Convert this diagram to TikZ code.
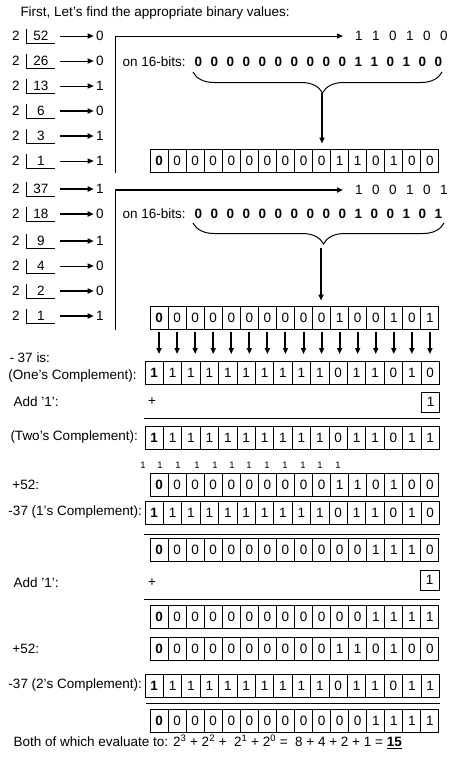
\documentclass[tikz,border=0pt]{standalone}
\usepackage{fontspec}
\setmainfont{Liberation Sans}
\usetikzlibrary{arrows.meta,calc,decorations.pathreplacing}
\definecolor{inkblack}{HTML}{000000}
\tikzset{
  txt/.style={inner sep=0pt,font=\fontsize{13.5}{14}\selectfont,color=inkblack},
  lbl/.style={txt,anchor=west},
  cell/.style={draw=inkblack,line width=1pt,minimum height=23pt,inner sep=0pt,font=\fontsize{13.5}{14}\selectfont},
  tip/.style={-{Triangle[length=6pt,width=5pt]}},
  bracepath/.style={decorate,decoration={brace,mirror,amplitude=21pt,aspect=0.52}},
}
\newcommand{\digitstrip}[2]{\foreach \d in {#2}{\makebox[#1]{\d}}}
\newcommand{\bitrow}[5]{%
  \foreach \b [count=\i] in {#5}{
    \node[cell,minimum width=#4pt](#1\i)at(#2+#4*\i-#4/2,#3){\ifnum\i=1 \textbf{\b}\else\b\fi};}}

\begin{document}
\begin{tikzpicture}[x=1pt,y=-1pt,line width=1pt]
\useasboundingbox(0,0)rectangle(464,782);
\node[lbl](title)at(20,13){First, Let's find the appropriate binary values:};
\foreach \y/\n/\r/\w [count=\k] in {36/52/0/1,61/26/0/1,86/13/1/1,111/6/0/2,136/3/1/2,161/1/1/1,
    189/37/1/2,214/18/0/2,241/9/1/2,266/4/0/1,291/2/0/2,316/1/1/2}{
  \node[txt](two\k)at(16,\y){2};
  \node[txt](num\k)at(41,\y){\n};
  \node[txt](rem\k)at(100,\y){\r};
  \coordinate(st\k)at(60,\y);
  \draw(26,\y-7)--(26,\y+7)--(55,\y+7);
  \draw[tip,line width=\w pt,shorten >=2pt](st\k)--(rem\k.west);}
% 52
\coordinate(cA)at(115,36);
\node[lbl](binA)at(350,36){\digitstrip{17pt}{1,1,0,1,0,0}};
\node[lbl](onA)at(122,62){on 16-bits:};
\node[lbl,font=\fontsize{13.5}{14}\selectfont\bfseries](bitsA)at(190,62){\digitstrip{16pt}{0,0,0,0,0,0,0,0,0,0,1,1,0,1,0,0}};
\draw[bracepath](193,72)--(442,72);
\coordinate(tipA)at(322,93);
\bitrow{a}{150}{160.5}{18.06}{0,0,0,0,0,0,0,0,0,0,1,1,0,1,0,0}
\draw[tip](cA)--([xshift=-7pt]binA.west);
\draw(cA)--(cA|-a1.south);
\draw[tip,line width=2pt,shorten >=5pt](tipA)--(tipA|-a10.north);
% 37
\coordinate(cB)at(115,190);
\node[lbl](binB)at(350,190){\digitstrip{17pt}{1,0,0,1,0,1}};
\node[lbl](onB)at(122,214){on 16-bits:};
\node[lbl,font=\fontsize{13.5}{14}\selectfont\bfseries](bitsB)at(190,214){\digitstrip{16pt}{0,0,0,0,0,0,0,0,0,0,1,0,0,1,0,1}};
\draw[bracepath](193,223)--(444,223);
\coordinate(tipB)at(321,248);
\bitrow{b}{150}{317.5}{18.06}{0,0,0,0,0,0,0,0,0,0,1,0,0,1,0,1}
\draw[tip,line width=2pt](cB)--([xshift=-7pt]binB.west);
\draw(cB)--(cB|-b1.south);
\draw[tip,line width=2pt,shorten >=5pt](tipB)--(tipB|-b10.north);
% -37
\node[lbl](neg)at(9,358){- 37 is:};
\node[lbl](ones)at(8,376){(One's Complement):};
\bitrow{c}{145}{373}{18.4}{1,1,1,1,1,1,1,1,1,1,0,1,1,0,1,0}
\foreach \i in {1,...,16}{
  \draw[tip,line width=2pt,shorten <=2pt,shorten >=7pt](b\i.south)--(b\i.south|-c\i.north);}
\node[lbl](addA)at(13,402){Add '1':};
\node[txt](plusA)at(152,402){+};
\node[cell,minimum width=18pt,minimum height=20pt](oneA)at(430.5,402){1};
\draw(144,418)--(440,418);
\node[lbl](twos)at(10,437){(Two's Complement):};
\bitrow{d}{145}{437.5}{18.4}{1,1,1,1,1,1,1,1,1,1,0,1,1,0,1,1}
% 52 + (-37)
\foreach \x [count=\k] in {143,160,178,197,215,232,249,267,285,303,320,338}{
  \node[txt,font=\fontsize{9.5}{10}\selectfont](carry\k)at(\x,465){1};}
\node[lbl](posA)at(12,485){+52:};
\bitrow{e}{150}{485}{18.06}{0,0,0,0,0,0,0,0,0,0,1,1,0,1,0,0}
\node[lbl](negA)at(8,512){-37 (1's Complement):};
\bitrow{f}{145}{512.5}{18.4}{1,1,1,1,1,1,1,1,1,1,0,1,1,0,1,0}
\draw(144,534)--(440,534);
\bitrow{g}{150}{549.5}{18.06}{0,0,0,0,0,0,0,0,0,0,0,0,1,1,1,0}
\node[lbl](addB)at(13,583){Add '1':};
\node[txt](plusB)at(152,583){+};
\node[cell,minimum width=19pt,minimum height=20pt](oneB)at(429.5,580){1};
\draw(144,599)--(440,599);
\bitrow{h}{150}{616.5}{18.06}{0,0,0,0,0,0,0,0,0,0,0,0,1,1,1,1}
\node[lbl](posB)at(12,649){+52:};
\bitrow{i}{150}{648.5}{18.06}{0,0,0,0,0,0,0,0,0,0,1,1,0,1,0,0}
\node[lbl](negB)at(8,685){-37 (2's Complement):};
\bitrow{j}{145}{686}{18.4}{1,1,1,1,1,1,1,1,1,1,0,1,1,0,1,1}
\draw(146,703)--(440,703);
\bitrow{k}{150}{721}{18.06}{0,0,0,0,0,0,0,0,0,0,0,0,1,1,1,1}
\node[lbl](result)at(13,742){Both of which evaluate to: 2\textsuperscript{3} + 2\textsuperscript{2} +\ \ 2\textsuperscript{1} + 2\textsuperscript{0} =\ \ 8 + 4 + 2 + 1 = \underline{\textbf{15}}};
\end{tikzpicture}
\end{document}
